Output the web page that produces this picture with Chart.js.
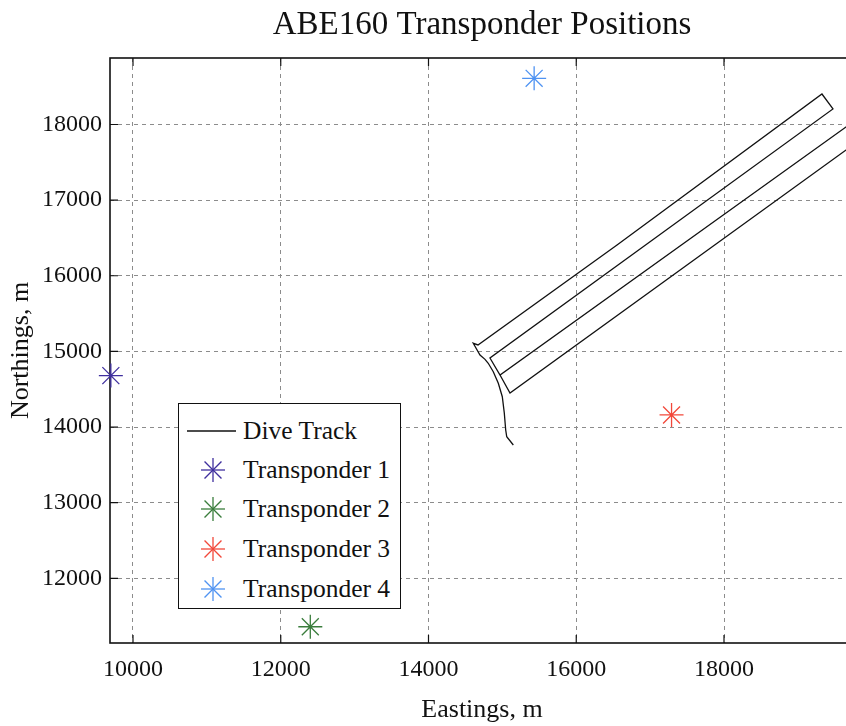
<!DOCTYPE html>
<html>
<head>
<meta charset="utf-8">
<title>ABE160 Transponder Positions</title>
<script src="https://cdn.jsdelivr.net/npm/chart.js@4.4.0/dist/chart.umd.min.js"></script>
<style>
  html, body { margin: 0; padding: 0; background: #fff; overflow: hidden; }
  #wrap { position: relative; width: 846px; height: 726px; overflow: hidden; }
  #chart { position: absolute; left: 0; top: 0; }
  #legend {
    position: absolute; left: 178px; top: 403px; width: 221px; height: 204px;
    border: 1.2px solid #111; background: #fff;
    font-family: 'Liberation Serif', serif; font-size: 25.5px; color: #111;
  }
  #legend .row { position: absolute; left: 0; height: 30px; display: flex; align-items: center; white-space: nowrap; }
  #legend svg { width: 64px; height: 30px; flex: none; }
</style>
</head>
<body>
<div id="wrap">
  <canvas id="chart" width="856" height="726"></canvas>
  <div id="legend"></div>
</div>
<script>
// axis ticks
const xTicks = [10000, 12000, 14000, 16000, 18000];
const yTicks = [12000, 13000, 14000, 15000, 16000, 17000, 18000];

// transponders (eastings / northings, metres)
const transponderNames = ['Transponder 1', 'Transponder 2', 'Transponder 3', 'Transponder 4'];
const transponderEast = [9700, 12400, 17290, 15430];
const transponderNorth = [14680, 11360, 14160, 18610];
const transponderColors = ['#3f2f9e', '#3a7d3c', '#f2483a', '#4f93f2'];

// dive track
const trackName = 'Dive Track';
const trackEast = [15148, 15059, 15045, 15026, 14999, 14945, 14877, 14809, 14765, 14697, 14606,
  14670, 16552, 19326, 19475, 14832, 14968, 19841, 19990, 15103, 14968];
const trackNorth = [13763, 13872, 13961, 14186, 14401, 14578, 14732, 14843, 14895, 14952, 15107,
  15085, 16407, 18403, 18205, 14913, 14688, 18099, 17901, 14450, 14688];

const titleText = 'ABE160 Transponder Positions';
const serif = "'Liberation Serif', serif";

// frame, inward tick marks and the title centred over the plot
const framePlugin = {
  id: 'frame',
  beforeDatasetsDraw(chart) {
    const { ctx, chartArea: a, scales } = chart;
    ctx.save();
    ctx.strokeStyle = '#111';
    ctx.lineWidth = 1.6;
    ctx.strokeRect(a.left, a.top, a.right - a.left, a.bottom - a.top);
    ctx.lineWidth = 1.2;
    ctx.beginPath();
    xTicks.forEach(v => {
      const px = scales.x.getPixelForValue(v);
      ctx.moveTo(px, a.bottom); ctx.lineTo(px, a.bottom - 8);
      ctx.moveTo(px, a.top); ctx.lineTo(px, a.top + 8);
    });
    yTicks.forEach(v => {
      const py = scales.y.getPixelForValue(v);
      ctx.moveTo(a.left, py); ctx.lineTo(a.left + 8, py);
    });
    ctx.stroke();
    ctx.restore();
  },
  afterDraw(chart) {
    const { ctx, chartArea: a } = chart;
    ctx.save();
    ctx.fillStyle = '#111';
    ctx.font = '33px ' + serif;
    ctx.textAlign = 'center';
    ctx.textBaseline = 'middle';
    ctx.fillText(titleText, (a.left + a.right) / 2, 25);
    ctx.restore();
  }
};

const datasets = [{
  label: trackName,
  data: trackEast.map((e, i) => ({ x: e, y: trackNorth[i] })),
  showLine: true,
  borderColor: '#111',
  borderWidth: 1.3,
  pointRadius: 0,
  tension: 0
}];
transponderNames.forEach((name, i) => {
  datasets.push({
    label: name,
    data: [{ x: transponderEast[i], y: transponderNorth[i] }],
    pointStyle: 'star',
    pointRadius: 12,
    borderWidth: 1.3,
    borderColor: transponderColors[i],
    backgroundColor: transponderColors[i],
    clip: false
  });
});

new Chart(document.getElementById('chart'), {
  type: 'scatter',
  data: { datasets },
  plugins: [framePlugin],
  options: {
    responsive: false,
    animation: false,
    devicePixelRatio: 1,
    layout: { autoPadding: false, padding: { left: 0, right: 2, top: 58, bottom: 0 } },
    plugins: {
      legend: { display: false },
      tooltip: { enabled: false },
      title: { display: false }
    },
    scales: {
      x: {
        type: 'linear',
        min: 9688.7,
        max: 19759.7,
        afterBuildTicks(s) { s.ticks = xTicks.map(v => ({ value: v })); },
        afterFit(s) { s.height = 83; s.paddingLeft = 0; s.paddingRight = 0; },
        ticks: { color: '#111', font: { family: serif, size: 24 }, padding: 12, callback: v => String(v) },
        grid: { color: '#8c8c8c', lineWidth: 1, drawTicks: false },
        border: { display: false, dash: [4, 4] },
        title: { display: true, text: 'Eastings, m', color: '#111', font: { family: serif, size: 26 }, padding: { top: 0, bottom: 0 } }
      },
      y: {
        type: 'linear',
        min: 11145,
        max: 18879,
        afterBuildTicks(s) { s.ticks = yTicks.map(v => ({ value: v })); },
        afterFit(s) { s.width = 110; },
        ticks: { color: '#111', font: { family: serif, size: 24 }, padding: 8, callback: v => String(v) },
        grid: { color: '#8c8c8c', lineWidth: 1, drawTicks: false },
        border: { display: false, dash: [4, 4] },
        title: { display: true, text: 'Northings, m', color: '#111', font: { family: serif, size: 26 }, padding: { top: 6, bottom: 0 } }
      }
    }
  }
});

// legend built from the same series
const legend = document.getElementById('legend');
const rowTops = [12, 51, 90, 130, 170];
const entries = [{ name: trackName, line: true }].concat(
  transponderNames.map((n, i) => ({ name: n, color: transponderColors[i] })));
entries.forEach((en, i) => {
  const row = document.createElement('div');
  row.className = 'row';
  row.style.top = rowTops[i] + 'px';
  let icon;
  if (en.line) {
    icon = '<svg viewBox="0 0 64 30"><line x1="8" y1="15" x2="57" y2="15" stroke="#111" stroke-width="1.3"/></svg>';
  } else {
    const c = en.color, r = 12, d = r * Math.SQRT1_2;
    icon = '<svg viewBox="0 0 64 30"><g stroke="' + c + '" stroke-width="1.3">' +
      '<line x1="34" y1="' + (15 - r) + '" x2="34" y2="' + (15 + r) + '"/>' +
      '<line x1="' + (34 - r) + '" y1="15" x2="' + (34 + r) + '" y2="15"/>' +
      '<line x1="' + (34 - d) + '" y1="' + (15 - d) + '" x2="' + (34 + d) + '" y2="' + (15 + d) + '"/>' +
      '<line x1="' + (34 - d) + '" y1="' + (15 + d) + '" x2="' + (34 + d) + '" y2="' + (15 - d) + '"/>' +
      '</g></svg>';
  }
  row.innerHTML = icon + '<span>' + en.name + '</span>';
  legend.appendChild(row);
});
</script>
</body>
</html>
